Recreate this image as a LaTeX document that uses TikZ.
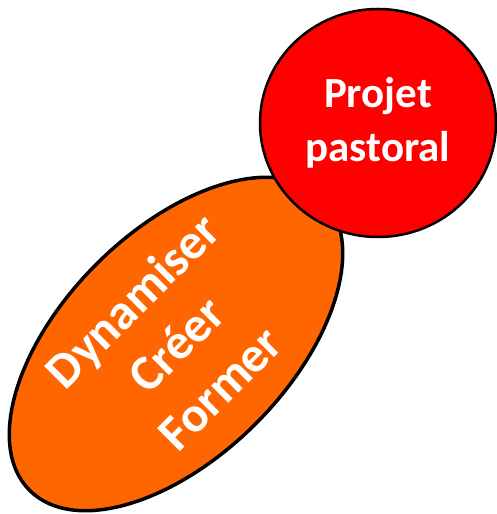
\documentclass[tikz,border=0pt]{standalone}
\usepackage{fontspec}
\setmainfont{Carlito}
\usetikzlibrary{shapes.geometric}
\definecolor{orng}{HTML}{FF6600}
\definecolor{rd}{HTML}{FF0000}
\tikzset{
  oval/.style={ellipse, draw=black, line width=3.5pt, fill=orng, inner sep=0pt,
    text=white, align=center, font=\fontsize{50}{62}\selectfont\bfseries},
  bubble/.style={ellipse, draw=black, line width=2.5pt, fill=rd, inner sep=0pt,
    text=white, align=center, font=\fontsize{43}{54}\selectfont\bfseries}
}
\begin{document}
\begin{tikzpicture}[x=1pt,y=1pt]
\useasboundingbox (0,0) rectangle (496,514);
\node[oval, minimum width=414pt, minimum height=216pt, rotate=45] (act) at (176,170) {Dynamiser\\Créer\\Former};
\node[bubble, minimum width=236pt, minimum height=228pt] (proj) at (378,391) {Projet\\pastoral};
\end{tikzpicture}
\end{document}
